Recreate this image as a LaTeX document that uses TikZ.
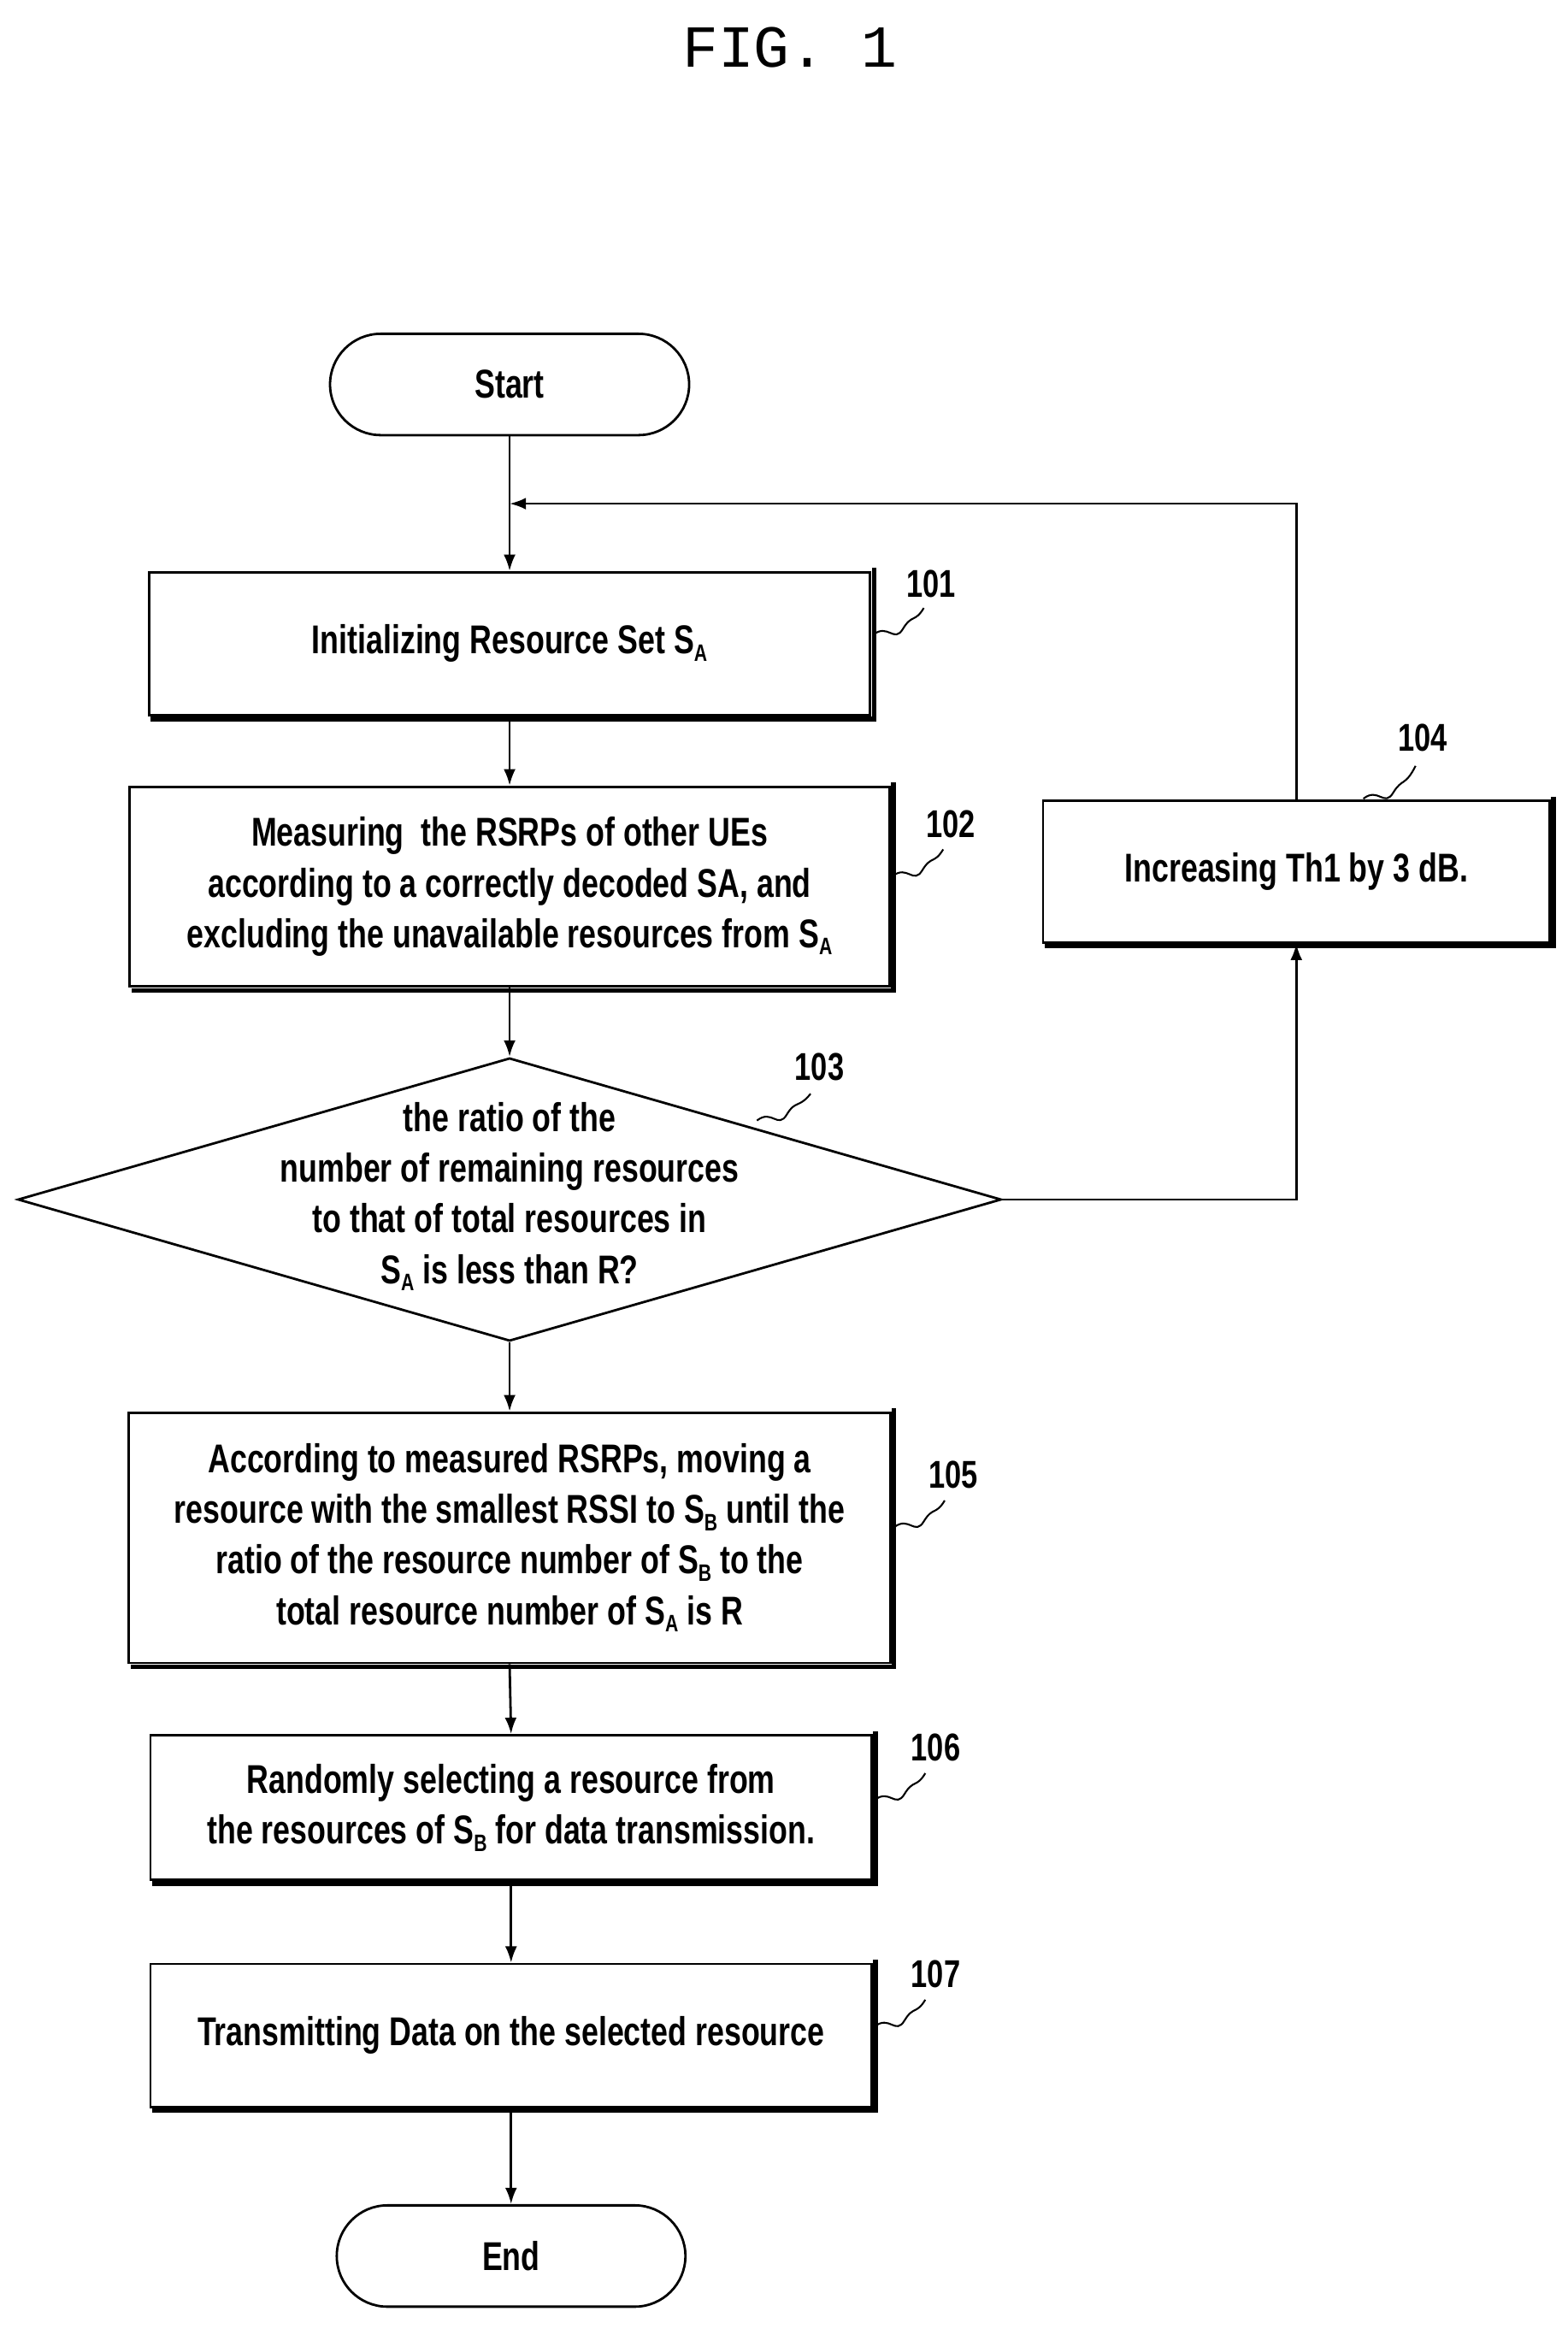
\documentclass[tikz,border=0pt]{standalone}
\usepackage{fontspec}
\setmainfont{Liberation Sans}[FakeStretch=0.76,BoldFont={* Bold}]
\setmonofont{Liberation Mono}
\usetikzlibrary{shapes.geometric,arrows.meta}
\newcommand{\sub}[1]{\raisebox{-0.35ex}{\fontsize{16}{16}\selectfont #1}}
\begin{document}
\begin{tikzpicture}[x=1pt,y=-1pt,
  every node/.style={font=\fontsize{27}{34}\selectfont\bfseries},
  box/.style={draw,line width=1.6pt,align=center,inner sep=0pt},
  shad/.style={draw,line width=3pt},
  ln/.style={line width=1.6pt},
  arr/.style={ln,-{Latex[length=11pt,width=8pt]}},
  lab/.style={font=\fontsize{26}{26}\selectfont\bfseries}]
\useasboundingbox (0,0) rectangle (1052,1563);
\node[font=\fontsize{40}{40}\selectfont\ttfamily] (t) at (530,32) {FIG. 1};
% shapes
\node[box,rounded corners=34pt,minimum width=241pt,minimum height=68pt] (s) at (342,258) {Start};
\node[box,minimum width=484pt,minimum height=96pt] (b1) at (342,432) {Initializing Resource Set S\sub{A}};
\node[box,minimum width=510pt,minimum height=134pt] (b2) at (342,595) {Measuring\ \ the RSRPs of other UEs\\according to a correctly decoded SA, and\\excluding the unavailable resources from S\sub{A}};
\node[box,diamond,aspect=3.5,minimum width=660pt,minimum height=190pt,inner sep=0pt] (d) at (342,805) {};
\node[align=center] (dt) at (342,803) {the ratio of the\\number of remaining resources\\to that of total resources in\\S\sub{A} is less than R?};
\node[box,minimum width=340pt,minimum height=95pt] (b4) at (870,585) {Increasing Th1 by 3 dB.};
\node[box,minimum width=511pt,minimum height=168pt] (b5) at (342,1032) {According to measured RSRPs, moving a\\resource with the smallest RSSI to S\sub{B} until the\\ratio of the resource number of S\sub{B} to the\\total resource number of S\sub{A} is R};
\node[box,minimum width=484pt,minimum height=97pt] (b6) at (343,1213) {Randomly selecting a resource from\\the resources of S\sub{B} for data transmission.};
\node[box,minimum width=484pt,minimum height=96pt] (b7) at (343,1366) {Transmitting Data on the selected resource};
\node[box,rounded corners=34pt,minimum width=234pt,minimum height=68pt] (e) at (343,1514) {End};
% shadows
\foreach \n in {b1,b2,b4,b5,b6,b7}{
  \draw[shad] ([xshift=1.8pt,yshift=2pt]\n.north east) -- ([xshift=1.8pt,yshift=-1.8pt]\n.south east) -- ([xshift=2pt,yshift=-1.8pt]\n.south west);}
% connectors
\coordinate (j) at (342,338);
\draw[arr] (s.south) -- (b1.north);
\draw[arr] (b1.south) -- (b2.north);
\draw[arr] (b2.south) -- (d.north);
\draw[arr] (d.south) -- (b5.north);
\draw[arr] (b5.south) -- (b6.north);
\draw[arr] (b6.south) -- (b7.north);
\draw[arr] (b7.south) -- (e.north);
\draw[arr] (d.east) -| (b4.south);
\draw[arr] (b4.north) |- (j);
% labels
\node[lab] (l1) at (625,392) {101};
\node[lab] (l2) at (638,553) {102};
\node[lab] (l3) at (550,716) {103};
\node[lab] (l4) at (955,495) {104};
\node[lab] (l5) at (640,990) {105};
\node[lab] (l6) at (628,1173) {106};
\node[lab] (l7) at (628,1325) {107};
\tikzset{sq/.style={line width=1.2pt}}
\draw[sq] (586,426) .. controls (596,418) and (600,432) .. (606,422) .. controls (612,412) and (614,418) .. (620,408);
\draw[sq] (599,588) .. controls (609,580) and (613,594) .. (619,584) .. controls (625,574) and (627,580) .. (633,570);
\draw[sq] (508,752) .. controls (518,744) and (522,758) .. (528,748) .. controls (534,738) and (536,744) .. (544,734);
\draw[sq] (915,536) .. controls (925,528) and (929,542) .. (935,532) .. controls (941,522) and (943,528) .. (950,514);
\draw[sq] (600,1025) .. controls (610,1017) and (614,1031) .. (620,1021) .. controls (626,1011) and (628,1017) .. (634,1007);
\draw[sq] (587,1208) .. controls (597,1200) and (601,1214) .. (607,1204) .. controls (613,1194) and (615,1200) .. (621,1190);
\draw[sq] (587,1360) .. controls (597,1352) and (601,1366) .. (607,1356) .. controls (613,1346) and (615,1352) .. (621,1342);
\end{tikzpicture}
\end{document}
